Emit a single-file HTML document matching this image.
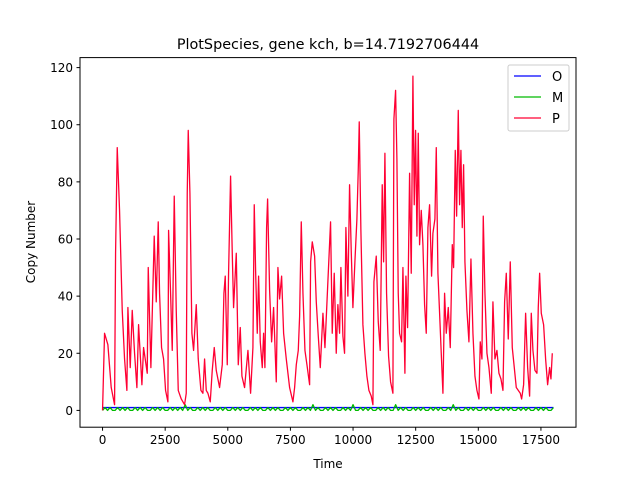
<!DOCTYPE html>
<html><head><meta charset="utf-8"><style>
body{margin:0;background:#fff;font-family:"DejaVu Sans","Liberation Sans",sans-serif}
svg{display:block}
</style></head><body>
<svg id="chart" width="640" height="480" xmlns="http://www.w3.org/2000/svg">
<rect width="640" height="480" fill="#fff"/>
<text x="328" y="49" text-anchor="middle" font-size="14.4">PlotSpecies, gene kch, b=14.7192706444</text>
<g id="marks"></g>
<rect x="80" y="57.6" width="496" height="369.6" fill="none" stroke="#000" stroke-width="1"/>
<g id="xticks" font-size="12"></g>
<g id="yticks" font-size="12"></g>
<text x="328" y="468" text-anchor="middle" font-size="12">Time</text>
<text transform="translate(35,242) rotate(-90)" text-anchor="middle" font-size="12">Copy Number</text>
<g>
<rect x="508" y="65" width="61" height="66" rx="2" fill="#fff" fill-opacity="0.8" stroke="#ccc"/>
<line x1="514" y1="76" x2="541" y2="76" stroke="#0000ff" stroke-width="1.2"/>
<text x="552" y="81" font-size="13">O</text>
<line x1="514" y1="97" x2="541" y2="97" stroke="#00bb00" stroke-width="1.2"/>
<text x="552" y="102" font-size="13">M</text>
<line x1="514" y1="118" x2="541" y2="118" stroke="#ff0033" stroke-width="1.2"/>
<text x="552" y="123" font-size="13">P</text>
</g>
</svg>
<script>
const xTicks=[0,2500,5000,7500,10000,12500,15000,17500];
const yTicks=[0,20,40,60,80,100,120];
const pTimes=[0,80,213,346,480,520,586,679,786,879,972,1012,1105,1185,1278,1371,1438,1571,1638,1784,1824,1930,2063,2143,2223,2276,2356,2436,2516,2609,2636,2716,2782,2862,2942,3022,3142,3275,3341,3381,3421,3488,3567,3634,3741,3820,3927,4007,4073,4140,4206,4300,4379,4459,4539,4672,4779,4845,4898,4978,5031,5111,5178,5231,5338,5418,5497,5564,5670,5804,5910,6003,6056,6110,6176,6229,6296,6376,6429,6482,6549,6589,6669,6749,6828,6935,7001,7068,7148,7228,7334,7467,7600,7667,7734,7813,7867,7933,8000,8080,8159,8266,8306,8372,8466,8532,8612,8692,8798,8878,8985,9102,9169,9249,9329,9395,9462,9515,9595,9661,9714,9794,9861,9927,9994,10074,10154,10207,10247,10313,10393,10473,10553,10633,10726,10793,10833,10926,11006,11085,11165,11219,11272,11338,11418,11498,11591,11631,11698,11751,11804,11857,11937,11991,12070,12110,12177,12257,12323,12390,12443,12496,12550,12603,12656,12723,12789,12856,12922,12989,13055,13135,13188,13268,13322,13388,13455,13521,13588,13654,13721,13801,13881,13961,14014,14080,14134,14200,14253,14306,14360,14413,14466,14546,14626,14706,14786,14866,14945,15025,15078,15145,15198,15265,15345,15425,15518,15584,15664,15744,15824,15904,15984,16050,16117,16196,16276,16356,16436,16516,16596,16675,16729,16809,16889,16969,17048,17115,17181,17261,17341,17394,17448,17514,17607,17687,17767,17847,17900,17953];
const pValues=[0,27,23,8,2,55,92,70,35,18,7,36,15,35,20,8,30,9,22,13,50,15,61,38,66,41,22,18,7,3,63,41,21,75,35,7,4,2,6,76,98,76,27,21,37,18,7,6,18,7,6,3,14,22,14,8,16,41,47,16,48,82,55,36,55,16,29,12,8,21,6,22,72,49,27,47,24,15,27,15,64,74,42,24,36,10,50,39,47,27,18,8,3,8,16,21,33,66,41,21,16,9,52,59,54,38,26,15,34,22,43,66,27,48,20,37,27,50,26,20,64,40,79,56,36,52,67,84,101,63,30,20,12,7,5,2,45,54,31,21,79,52,90,41,19,10,6,102,112,88,41,27,24,50,13,47,29,83,48,117,72,98,61,97,58,70,58,37,27,64,72,47,62,67,92,48,34,20,6,41,27,36,22,58,50,91,68,105,72,91,64,86,52,35,24,53,27,12,7,4,24,18,68,41,20,15,6,38,18,21,13,11,7,38,48,25,52,22,15,8,7,6,4,9,34,15,5,34,21,14,13,36,48,34,30,18,9,15,11,20];
const oTimes=[0,18000];
const oValues=[1,1];
const mStep=100;
const mValues=[0,1,0,1,0,0,1,0,1,0,1,0,0,1,0,1,0,1,0,0,1,0,1,0,1,0,0,1,0,1,0,1,0,2,0,1,0,0,1,0,1,0,1,0,0,1,0,1,0,1,0,0,1,0,1,0,1,0,0,1,0,1,0,1,0,0,1,0,1,0,1,0,0,1,0,1,0,1,0,0,1,0,1,0,2,0,1,0,0,1,0,1,0,1,0,0,1,0,1,0,2,0,0,1,0,1,0,1,0,0,1,0,1,0,1,0,0,2,0,1,0,1,0,0,1,0,1,0,1,0,0,1,0,1,0,1,0,0,1,0,2,0,1,0,0,1,0,1,0,1,0,0,1,0,1,0,1,0,0,1,0,1,0,1,0,0,1,0,1,0,1,0,0,1,0,1,0,1,0,0,1];
const X0=80,X1=576,Y0=427.2,Y1=57.6,xmin=-900,xmax=18900,ymin=-5.88,ymax=123.5;
const sx=t=>X0+(t-xmin)/(xmax-xmin)*(X1-X0);
const sy=v=>Y0-(v-ymin)/(ymax-ymin)*(Y0-Y1);
const NS="http://www.w3.org/2000/svg";
const marks=document.getElementById('marks');
function series(ts,vs,color,name,w){
  const p=document.createElementNS(NS,'polyline');
  p.setAttribute('points',ts.map((t,i)=>sx(t).toFixed(2)+','+sy(vs[i]).toFixed(2)).join(' '));
  p.setAttribute('fill','none');p.setAttribute('stroke',color);p.setAttribute('stroke-width',w);
  p.setAttribute('stroke-linejoin','round');
  
  
  marks.appendChild(p);
}
const mTimes=mValues.map((v,i)=>i*mStep);
series(oTimes,oValues,'#0000ff','series-o',1.3);
series(mTimes,mValues,'#00bb00','series-m',1.3);
series(pTimes,pValues,'#ff0033','series-p',1.3);
const xg=document.getElementById('xticks');
xTicks.forEach(v=>{
  const x=sx(v);
  const l=document.createElementNS(NS,'line');
  l.setAttribute('x1',x);l.setAttribute('x2',x);l.setAttribute('y1',Y0);l.setAttribute('y2',Y0+3.5);l.setAttribute('stroke','#000');
  
  
  xg.appendChild(l);
  const t=document.createElementNS(NS,'text');
  t.setAttribute('x',x);t.setAttribute('y',Y0+17);t.setAttribute('text-anchor','middle');t.textContent=v;
  
  
  xg.appendChild(t);
});
const yg=document.getElementById('yticks');
yTicks.forEach(v=>{
  const y=sy(v);
  const l=document.createElementNS(NS,'line');
  l.setAttribute('x1',X0-3.5);l.setAttribute('x2',X0);l.setAttribute('y1',y);l.setAttribute('y2',y);l.setAttribute('stroke','#000');
  
  
  yg.appendChild(l);
  const t=document.createElementNS(NS,'text');
  t.setAttribute('x',X0-7);t.setAttribute('y',y+4.5);t.setAttribute('text-anchor','end');t.textContent=v;
  
  
  yg.appendChild(t);
});
</script>
</body></html>
